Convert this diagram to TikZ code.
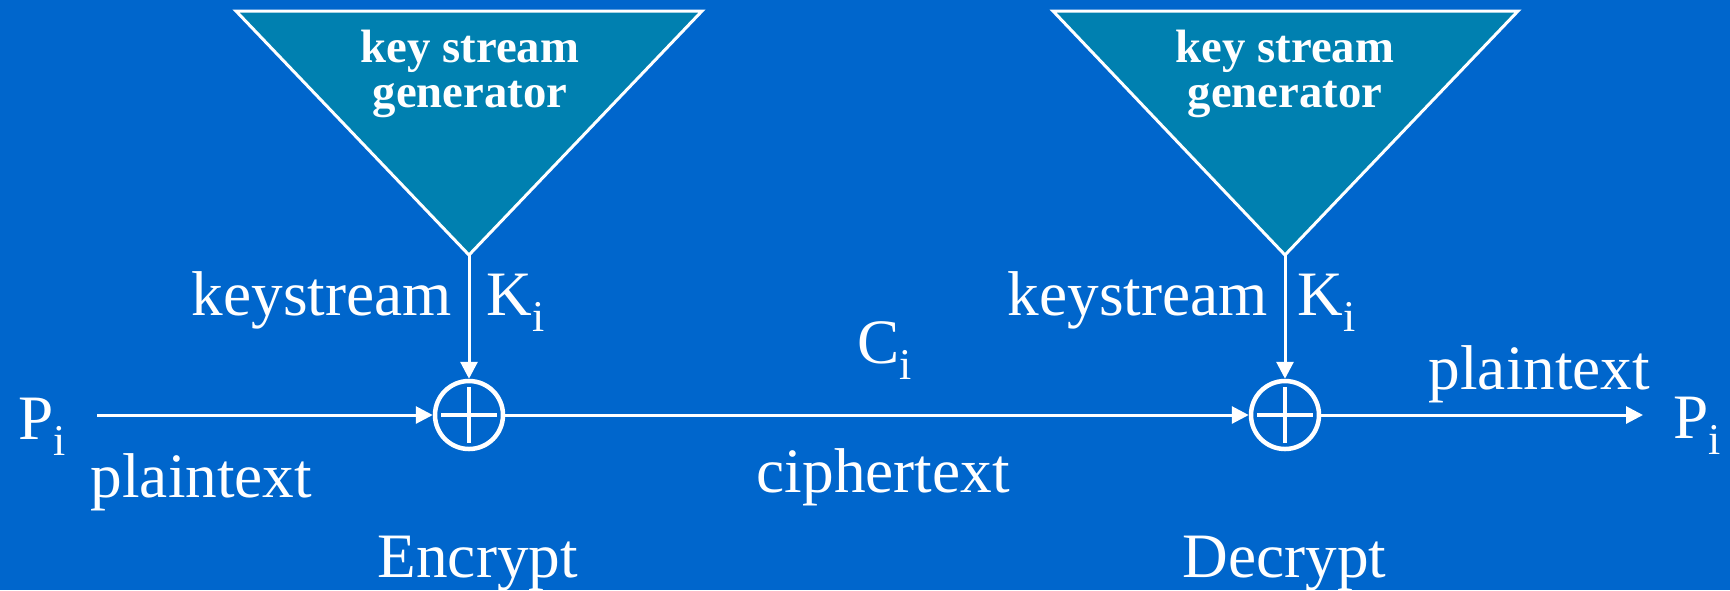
\documentclass[tikz,border=0pt]{standalone}
\usepackage{fontspec}
\setmainfont{Liberation Serif}
\usepackage{tikz}
\usetikzlibrary{arrows.meta}

\definecolor{slideblue}{HTML}{0066CC}
\definecolor{genteal}{HTML}{0080B0}
% lowered index letter after P, K, C
\newcommand{\low}[1]{\raisebox{-1.6mm}{\fontsize{12.5}{12.5}\selectfont #1}}

\begin{document}
\begin{tikzpicture}[x=0.1mm, y=-0.1mm,
  every node/.style={text=white, inner sep=0, font=\fontsize{18}{18}\selectfont},
  lbl/.style={anchor=base west},
  flow/.style={draw=white, line width=0.3mm, -{Triangle[length=1.7mm,width=1.7mm]}},
  gen/.style={draw=white, line width=0.3mm, fill=genteal},
  gentext/.style={align=center, anchor=base, font=\bfseries\fontsize{13.3}{12.8}\selectfont},
  xor/.style={circle, draw=white, line width=0.45mm, minimum size=6.8mm,
    path picture={\draw[white, line width=0.45mm]
      ([xshift=-2.8mm]path picture bounding box.center) -- ([xshift=2.8mm]path picture bounding box.center)
      ([yshift=-2.8mm]path picture bounding box.center) -- ([yshift=2.8mm]path picture bounding box.center);}}]

\useasboundingbox (0,0) rectangle (1730,590);
\fill[slideblue] (0,0) rectangle (1730,590);

% the two key stream generators
\draw[gen] (236,11) -- (702,11) -- (469,255) -- cycle;
\draw[gen] (1053,11) -- (1518,11) -- (1285,255) -- cycle;
\coordinate (tipA) at (469,255);
\coordinate (tipB) at (1285,255);
\node[gentext] (genA) at (470,107) {key stream\\generator};
\node[gentext] (genB) at (1285,107) {key stream\\generator};

\node[xor] (xorA) at (469,415) {};
\node[xor] (xorB) at (1285,415) {};
\coordinate (src) at (97,415);
\coordinate (dst) at (1643,415);

\draw[flow] (src) -- (xorA);
\draw[flow] (tipA) -- (xorA);
\draw[flow] (xorA) -- (xorB);
\draw[flow] (tipB) -- (xorB);
\draw[flow] (xorB) -- (dst);

\node[lbl] (pA) at (18,439) {P\low{i}};
\node[lbl] (ptA) at (90,497) {plaintext};
\node[lbl] (ksA) at (191,315) {keystream};
\node[lbl] (kA) at (486,315) {K\low{i}};
\node[lbl] (ci) at (857,363) {C\low{i}};
\node[lbl] (ct) at (756,492) {ciphertext};
\node[lbl] (enc) at (377,577) {Encrypt};
\node[lbl] (ksB) at (1007,315) {keystream};
\node[lbl] (kB) at (1297,315) {K\low{i}};
\node[lbl] (ptB) at (1428,389) {plaintext};
\node[lbl] (pB) at (1673,438) {P\low{i}};
\node[lbl] (dec) at (1182,577) {Decrypt};
\end{tikzpicture}
\end{document}
